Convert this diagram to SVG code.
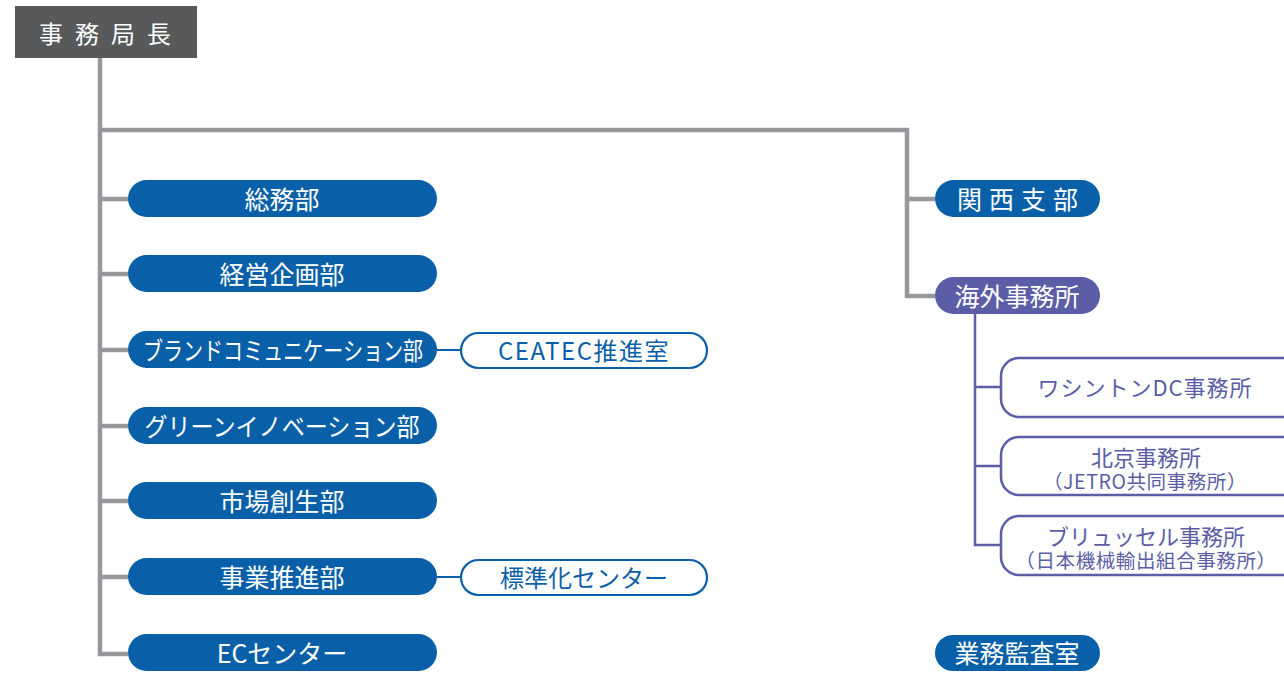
<svg xmlns="http://www.w3.org/2000/svg" width="1284" height="673" viewBox="0 0 1284 673">
<style>
text{font-family:"Noto Sans CJK JP","Noto Sans",sans-serif;text-anchor:middle;dominant-baseline:central}
.pill{fill:#0a60a8}
.pt{fill:#fff;font-size:25px}
.ol{fill:#fff;stroke:#0a60a8;stroke-width:2.2}
.ot{fill:#0a60a8;font-size:24px}
.pl{fill:#fff;stroke:#5b5ea6;stroke-width:2.5}
.plt{fill:#5b5ea6;font-size:22px}
.pls{font-size:19.5px;letter-spacing:0.6px}
.g{stroke:#97989b;stroke-width:4.5;fill:none}
.b{stroke:#0a60a8;stroke-width:2;fill:none}
.p{stroke:#5b5ea6;stroke-width:2.5;fill:none}
</style>
<g id="connectors">
<path class="g" d="M100 58V654H128M100 199H128M100 274H128M100 350H128M100 426H128M100 501H128M100 577H128M100 130H907V296H935M907 199H935"/>
<path class="b" d="M437 350H461M437 577H461"/>
<path class="p" d="M975 314V545H1001M975 387H1001M975 466H1001"/>
</g>
<g id="n-chief"><rect x="15" y="6" width="182" height="52" fill="#58595b"/><text x="111" y="32" fill="#fff" font-size="24" letter-spacing="12">事務局長</text></g>
<g id="n-soumu"><rect class="pill" x="128" y="180" width="309" height="37" rx="18.5"/><text class="pt" x="282" y="198">総務部</text></g>
<g id="n-keiei"><rect class="pill" x="128" y="255" width="309" height="37" rx="18.5"/><text class="pt" x="282" y="273">経営企画部</text></g>
<g id="n-brand"><rect class="pill" x="128" y="331" width="309" height="37" rx="18.5"/><text class="pt" x="283" y="349" textLength="280" lengthAdjust="spacingAndGlyphs">ブランドコミュニケーション部</text></g>
<g id="n-green"><rect class="pill" x="128" y="407" width="309" height="37" rx="18.5"/><text class="pt" x="282" y="425" textLength="275" lengthAdjust="spacingAndGlyphs">グリーンイノベーション部</text></g>
<g id="n-market"><rect class="pill" x="128" y="482" width="309" height="37" rx="18.5"/><text class="pt" x="282" y="500">市場創生部</text></g>
<g id="n-jigyo"><rect class="pill" x="128" y="558" width="309" height="37" rx="18.5"/><text class="pt" x="282" y="576">事業推進部</text></g>
<g id="n-ec"><rect class="pill" x="128" y="634" width="309" height="37" rx="18.5"/><text class="pt" x="282" y="652">ECセンター</text></g>
<g id="n-ceatec"><rect class="ol" x="461" y="333" width="246" height="35" rx="17.5"/><text class="ot" x="584" y="349" letter-spacing="1.5">CEATEC推進室</text></g>
<g id="n-hyojun"><rect class="ol" x="461" y="560" width="246" height="35" rx="17.5"/><text class="ot" x="584" y="576">標準化センター</text></g>
<g id="n-kansai"><rect class="pill" x="935" y="180" width="165" height="37" rx="18.5"/><text class="pt" x="1021" y="198" font-size="24" letter-spacing="7">関西支部</text></g>
<g id="n-kaigai"><rect x="935" y="277" width="165" height="37" rx="18.5" fill="#5b5ea6"/><text class="pt" x="1017" y="295">海外事務所</text></g>
<g id="n-kansa"><rect class="pill" x="935" y="635" width="165" height="36" rx="18"/><text class="pt" x="1017" y="652">業務監査室</text></g>
<g id="n-dc"><rect class="pl" x="1001" y="358" width="300" height="59" rx="18"/><text class="plt" x="1145" y="386" letter-spacing="1">ワシントンDC事務所</text></g>
<g id="n-beijing"><rect class="pl" x="1001" y="437" width="300" height="58" rx="18"/><text class="plt" x="1146" y="456">北京事務所<tspan class="pls" x="1145" dy="24">（JETRO共同事務所）</tspan></text></g>
<g id="n-brussels"><rect class="pl" x="1001" y="516" width="300" height="59" rx="18"/><text class="plt" x="1146" y="535">ブリュッセル事務所<tspan class="pls" x="1146" dy="24">（日本機械輸出組合事務所）</tspan></text></g>
</svg>
